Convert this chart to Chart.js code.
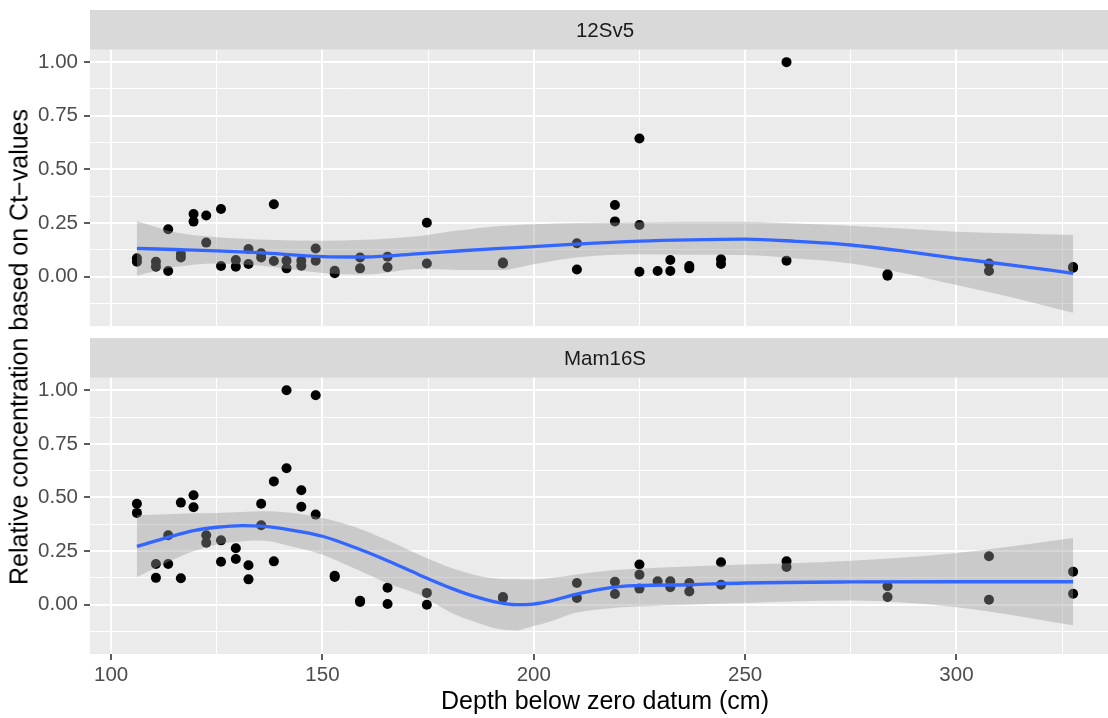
<!DOCTYPE html>
<html>
<head>
<meta charset="utf-8">
<script src="https://cdn.jsdelivr.net/npm/chart.js@4.4.1/dist/chart.umd.min.js"></script>
<style>
  html, body { margin: 0; padding: 0; background: #ffffff; }
  #wrap { position: relative; width: 1108px; height: 718px; overflow: hidden;
          font-family: "Liberation Sans", Arial, sans-serif; }
  canvas { position: absolute; left: 0; }
  #c1 { top: 0; }
  #c2 { top: 338px; }
  #ytitle { position: absolute; left: 19.3px; top: 347px;
            transform: translate(-50%, -50%) rotate(-90deg);
            font-size: 25px; line-height: 25px; white-space: nowrap; color: #000; }
</style>
</head>
<body>
<div id="wrap">
  <canvas id="c1" width="1125" height="345"></canvas>
  <canvas id="c2" width="1125" height="380"></canvas>
  <div id="ytitle">Relative concentration based on Ct−values</div>
</div>
<script>
// ---- 12Sv5 measurements (depth in cm, relative concentration) ----
const depth12Sv5 = [
  106.1, 106.1, 110.6, 110.6, 113.5, 113.5, 116.5, 116.5, 119.5, 119.5,
  122.5, 122.5, 126.0, 126.0, 129.5, 129.5, 132.5, 132.5, 135.5, 135.5,
  138.5, 138.5, 141.5, 141.5, 145.0, 145.0, 148.4, 148.4, 152.9, 152.9,
  158.9, 158.9, 165.4, 165.4, 174.7, 174.7, 192.7, 192.7, 210.2, 210.2,
  219.2, 219.2, 225.0, 225.0, 225.0, 229.3, 232.3, 232.3, 236.8, 236.8,
  244.3, 244.3, 259.8, 259.8, 283.7, 283.7, 307.7, 307.7, 327.6, 327.6
];
const value12Sv5 = [
  0.086, 0.070, 0.070, 0.047, 0.221, 0.027, 0.106, 0.090, 0.292, 0.257,
  0.285, 0.159, 0.316, 0.050, 0.078, 0.047, 0.129, 0.059, 0.109, 0.090,
  0.338, 0.073, 0.075, 0.039, 0.075, 0.051, 0.132, 0.075, 0.028, 0.016,
  0.090, 0.039, 0.093, 0.044, 0.252, 0.062, 0.062, 0.066, 0.156, 0.034,
  0.334, 0.258, 0.644, 0.241, 0.023, 0.027, 0.078, 0.027, 0.050, 0.039,
  0.081, 0.059, 1.000, 0.075, 0.005, 0.012, 0.062, 0.027, 0.042, 0.045
];

// ---- Mam16S measurements ----
const depthMam16S = [
  106.1, 106.1, 110.6, 110.6, 113.5, 113.5, 116.5, 116.5, 119.5, 119.5,
  122.5, 122.5, 126.0, 126.0, 129.5, 129.5, 132.5, 132.5, 135.5, 135.5,
  138.5, 138.5, 141.5, 141.5, 145.0, 145.0, 148.4, 148.4, 152.9, 152.9,
  158.9, 158.9, 165.4, 165.4, 174.7, 174.7, 192.7, 192.7, 210.2, 210.2,
  219.2, 219.2, 225.0, 225.0, 225.0, 229.3, 232.3, 232.3, 236.8, 236.8,
  244.3, 244.3, 259.8, 259.8, 283.7, 283.7, 307.7, 307.7, 327.6, 327.6
];
const valueMam16S = [
  0.471, 0.428, 0.190, 0.125, 0.324, 0.190, 0.476, 0.123, 0.510, 0.454,
  0.324, 0.289, 0.300, 0.200, 0.263, 0.213, 0.184, 0.118, 0.471, 0.370,
  0.575, 0.202, 1.000, 0.636, 0.534, 0.457, 0.977, 0.420, 0.129, 0.135,
  0.013, 0.018, 0.079, 0.003, 0.055, 0.000, 0.031, 0.036, 0.101, 0.031,
  0.107, 0.050, 0.187, 0.140, 0.075, 0.109, 0.109, 0.081, 0.101, 0.062,
  0.198, 0.093, 0.202, 0.176, 0.086, 0.036, 0.226, 0.023, 0.154, 0.051
];

// ---- Smoothed trend with confidence band, 12Sv5 ----
const smoothDepth12Sv5 = [106.1, 115, 125, 135, 150, 160, 173, 182, 192, 200,
                          210, 225, 237, 250, 262, 275, 288, 300, 314, 327.6];
const smoothFit12Sv5   = [0.132, 0.127, 0.121, 0.112, 0.094, 0.092, 0.108, 0.120, 0.132, 0.140,
                          0.152, 0.166, 0.172, 0.175, 0.165, 0.148, 0.118, 0.086, 0.052, 0.016];
const smoothHigh12Sv5  = [0.260, 0.207, 0.184, 0.174, 0.168, 0.172, 0.190, 0.215, 0.237, 0.245,
                          0.250, 0.254, 0.256, 0.256, 0.248, 0.238, 0.224, 0.210, 0.202, 0.195];
const smoothLow12Sv5   = [0.005, 0.045, 0.062, 0.052, 0.018, 0.010, 0.036, 0.032, 0.031, 0.058,
                          0.090, 0.105, 0.103, 0.101, 0.085, 0.062, 0.015, -0.039, -0.100, -0.168];

// ---- Smoothed trend with confidence band, Mam16S ----
const smoothDepthMam16S = [106.1, 113.5, 119.5, 125, 131, 135.5, 142, 150, 158, 165.4,
                           172.8, 180.7, 185.8, 192.1, 195.7, 199.8, 204.4, 209.6, 218.6, 224.6,
                           236.5, 250, 275, 300, 327.6];
const smoothFitMam16S   = [0.272, 0.314, 0.345, 0.361, 0.369, 0.366, 0.350, 0.319, 0.264, 0.205,
                           0.140, 0.075, 0.040, 0.008, 0.000, 0.003, 0.019, 0.047, 0.081, 0.089,
                           0.093, 0.101, 0.106, 0.107, 0.107];
const smoothHighMam16S  = [0.417, 0.422, 0.426, 0.428, 0.432, 0.436, 0.430, 0.404, 0.360, 0.300,
                           0.233, 0.170, 0.140, 0.120, 0.118, 0.117, 0.125, 0.140, 0.160, 0.168,
                           0.178, 0.187, 0.205, 0.241, 0.311];
const smoothLowMam16S   = [0.128, 0.200, 0.249, 0.280, 0.296, 0.299, 0.275, 0.233, 0.165, 0.100,
                           0.047, -0.040, -0.078, -0.115, -0.120, -0.101, -0.075, -0.039, -0.015, -0.008,
                           0.000, 0.008, 0.019, -0.012, -0.096];

// ---- Axis ticks ----
const xGridValues = [100, 125, 150, 175, 200, 225, 250, 275, 300, 325];
const xLabelValues = [100, 150, 200, 250, 300];
const yGridValues = [-0.125, 0, 0.125, 0.25, 0.375, 0.5, 0.625, 0.75, 0.875, 1.0];
const yLabelValues = [0, 0.25, 0.5, 0.75, 1.0];

const FONT = '"Liberation Sans", Arial, Helvetica, sans-serif';
Chart.defaults.font.family = FONT;

const isMajorX = v => xLabelValues.some(m => Math.abs(m - v) < 1e-9);
const isMajorY = v => yLabelValues.some(m => Math.abs(m - v) < 1e-9);

// Grey panel background and facet strip with its label
const panelPlugin = {
  id: 'panel',
  beforeDraw(chart, args, opts) {
    const { ctx, chartArea: a } = chart;
    ctx.save();
    ctx.fillStyle = '#EBEBEB';
    ctx.fillRect(a.left, a.top, a.right - a.left, a.bottom - a.top);
    ctx.fillStyle = '#D9D9D9';
    ctx.fillRect(a.left, a.top - opts.stripHeight, a.right - a.left, opts.stripHeight);
    ctx.fillStyle = '#1A1A1A';
    ctx.font = '20.5px ' + FONT;
    ctx.textAlign = 'center';
    ctx.textBaseline = 'middle';
    ctx.fillText(opts.label, (a.left + a.right) / 2, a.top - opts.stripHeight / 2 + 1);
    ctx.restore();
  }
};

function makePanel(canvasId, label, depths, values, sDepth, sFit, sLow, sHigh, showX, padding) {
  const pts = (xs, ys) => xs.map((x, i) => ({ x: x, y: ys[i] }));
  return new Chart(document.getElementById(canvasId), {
    type: 'scatter',
    data: {
      datasets: [
        {
          type: 'scatter',
          data: pts(depths, values),
          backgroundColor: '#000000',
          borderWidth: 0,
          pointRadius: 5,
          pointHoverRadius: 5,
          order: 3
        },
        {
          type: 'line',
          data: pts(sDepth, sHigh),
          borderColor: 'rgba(0,0,0,0)',
          borderWidth: 0,
          pointRadius: 0,
          fill: false,
          cubicInterpolationMode: 'monotone',
          order: 2
        },
        {
          type: 'line',
          data: pts(sDepth, sLow),
          borderColor: 'rgba(0,0,0,0)',
          borderWidth: 0,
          pointRadius: 0,
          fill: '-1',
          backgroundColor: 'rgba(153,153,153,0.4)',
          cubicInterpolationMode: 'monotone',
          order: 2
        },
        {
          type: 'line',
          data: pts(sDepth, sFit),
          borderColor: '#3366FF',
          borderWidth: 3.3,
          pointRadius: 0,
          fill: false,
          cubicInterpolationMode: 'monotone',
          order: 1
        }
      ]
    },
    options: {
      responsive: false,
      animation: false,
      devicePixelRatio: 1,
      events: [],
      layout: { padding: padding },
      plugins: {
        legend: { display: false },
        tooltip: { enabled: false },
        panel: { label: label, stripHeight: 39.7 }
      },
      scales: {
        x: {
          type: 'linear',
          min: 95.0,
          max: 338.7,
          afterBuildTicks: s => { s.ticks = xGridValues.map(v => ({ value: v })); },
          afterFit: s => { s.height = showX ? 64 : 0; },
          border: { display: false },
          grid: {
            color: '#FFFFFF',
            lineWidth: c => (c.tick && isMajorX(c.tick.value)) ? 2 : 1,
            drawTicks: showX,
            tickLength: 6,
            tickWidth: 1.6,
            tickColor: c => (c.tick && isMajorX(c.tick.value)) ? '#333333' : 'rgba(0,0,0,0)'
          },
          ticks: {
            display: showX,
            autoSkip: false,
            maxRotation: 0,
            padding: 3,
            color: '#4D4D4D',
            font: { size: 20.5 },
            callback: v => isMajorX(v) ? String(v) : ''
          },
          title: {
            display: showX,
            text: 'Depth below zero datum (cm)',
            color: '#000000',
            font: { size: 25 },
            padding: { top: 0, bottom: 0.5 }
          }
        },
        y: {
          type: 'linear',
          min: -0.230,
          max: 1.058,
          afterBuildTicks: s => { s.ticks = yGridValues.map(v => ({ value: v })); },
          afterFit: s => { s.width = 90; },
          border: { display: false },
          grid: {
            color: '#FFFFFF',
            lineWidth: c => (c.tick && isMajorY(c.tick.value)) ? 2 : 1,
            tickLength: 6,
            tickWidth: 1.6,
            tickColor: c => (c.tick && isMajorY(c.tick.value)) ? '#333333' : 'rgba(0,0,0,0)'
          },
          ticks: {
            autoSkip: false,
            padding: 6,
            color: '#4D4D4D',
            font: { size: 20.5 },
            callback: v => isMajorY(v) ? v.toFixed(2) : ''
          }
        }
      }
    },
    plugins: [panelPlugin]
  });
}

makePanel('c1', '12Sv5', depth12Sv5, value12Sv5,
          smoothDepth12Sv5, smoothFit12Sv5, smoothLow12Sv5, smoothHigh12Sv5,
          false, { top: 49.7, bottom: 18.9, left: 0, right: 5 });
makePanel('c2', 'Mam16S', depthMam16S, valueMam16S,
          smoothDepthMam16S, smoothFitMam16S, smoothLowMam16S, smoothHighMam16S,
          true, { top: 39.8, bottom: 0, left: 0, right: 5 });
</script>
</body>
</html>
